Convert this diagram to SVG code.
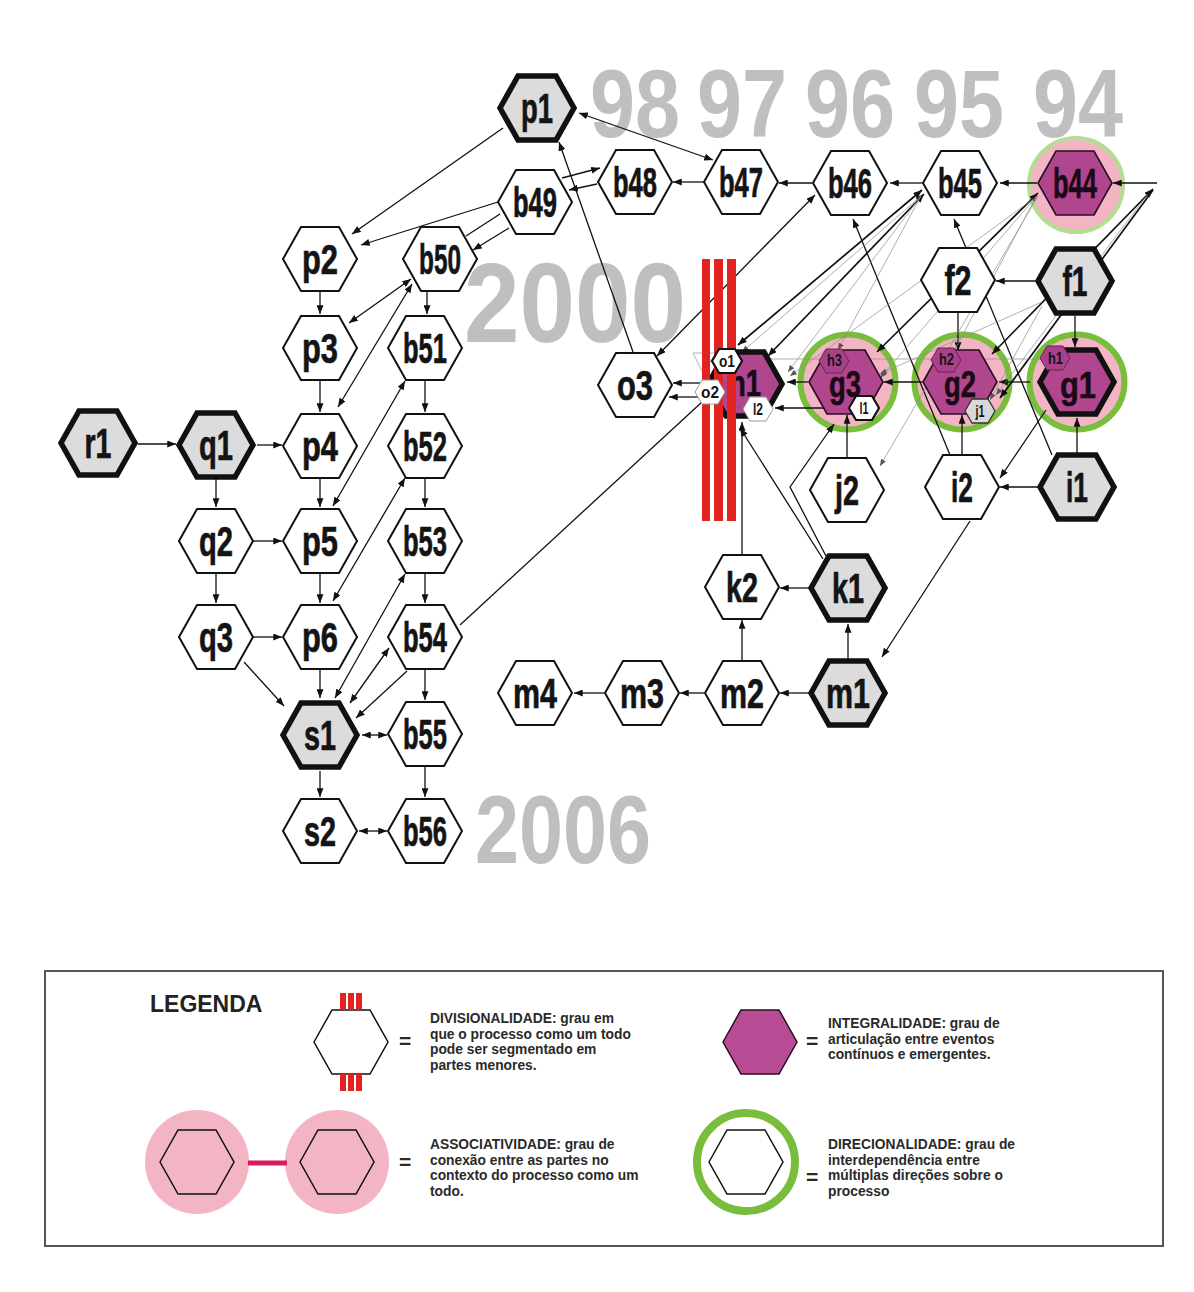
<svg xmlns="http://www.w3.org/2000/svg" width="1194" height="1292" viewBox="0 0 1194 1292">
<defs>
<style>
 .yr{font-family:"Liberation Sans",Arial,sans-serif;font-weight:bold;fill:#bfbfbf}
 .lb{font-family:"Liberation Sans",Arial,sans-serif;font-weight:bold;font-size:43px;fill:#141414;stroke:#141414;stroke-width:0.7}
 .lg{font-family:"Liberation Sans",Arial,sans-serif;font-weight:bold;font-size:36px;fill:#1a0a16;stroke:#1a0a16;stroke-width:0.6}
 .sl{font-family:"Liberation Sans",Arial,sans-serif;font-weight:bold;font-size:16px;fill:#141414}
 .lt{font-family:"Liberation Sans",Arial,sans-serif;font-weight:bold;font-size:13.8px;fill:#2a2a2a}
 .lh{font-family:"Liberation Sans",Arial,sans-serif;font-weight:bold;font-size:23px;fill:#222}
 .eq{font-family:"Liberation Sans",Arial,sans-serif;font-weight:bold;font-size:21px;fill:#2a2a2a}
 .w{fill:#fff;stroke:#111;stroke-width:2}
 .bd{fill:#dcdcdc;stroke:#111;stroke-width:5.5}
 .pu{fill:#b0468e;stroke:#2a0c22;stroke-width:1.6}
 .pb{fill:#b0468e;stroke:#111;stroke-width:5.5}
 .hp{fill:#a8418a;stroke:#6a2456;stroke-width:1}
 .sw{fill:#fff;stroke:#111;stroke-width:2.2}
 .sg{fill:#fff;stroke:#9a9a9a;stroke-width:1}
 .sy{fill:#d8d8d8;stroke:#333;stroke-width:1.3}
 .halo{fill:#f3b5c4;stroke:#78be3c;stroke-width:6}
 .bar{fill:#e22320}
 #connectors path{fill:none;stroke:#111;stroke-width:1.3}
 #connectors path.t{stroke:#8c8c8c;stroke-width:0.7}
 #connectors path.k{stroke-width:1.7}
 .a{marker-end:url(#ah)}
 .d{marker-start:url(#ah);marker-end:url(#ah)}
 .ta{marker-end:url(#ahg)}
</style>
<polygon id="hx" points="-37,0 -19,-32 19,-32 37,0 19,32 -19,32"/>
<polygon id="hs" points="-15,0 -8,-12 8,-12 15,0 8,12 -8,12"/>
<marker id="ah" viewBox="0 0 10 8" refX="10" refY="4" markerWidth="9" markerHeight="7" markerUnits="userSpaceOnUse" orient="auto-start-reverse">
 <path d="M0,0 L10,4 L0,8 z" fill="#111"/>
</marker>
<marker id="ahg" viewBox="0 0 10 8" refX="10" refY="4" markerWidth="7" markerHeight="5.5" markerUnits="userSpaceOnUse" orient="auto-start-reverse">
 <path d="M0,0 L10,4 L0,8 z" fill="#555"/>
</marker>
</defs>

<rect width="1194" height="1292" fill="#fff"/>

<!-- year markers in the background -->
<g id="years">
 <text class="yr" x="590" y="137" font-size="96" textLength="90" lengthAdjust="spacingAndGlyphs">98</text>
 <text class="yr" x="697" y="137" font-size="96" textLength="90" lengthAdjust="spacingAndGlyphs">97</text>
 <text class="yr" x="805" y="137" font-size="96" textLength="90" lengthAdjust="spacingAndGlyphs">96</text>
 <text class="yr" x="914" y="137" font-size="96" textLength="90" lengthAdjust="spacingAndGlyphs">95</text>
 <text class="yr" x="1033" y="137" font-size="96" textLength="90" lengthAdjust="spacingAndGlyphs">94</text>
 <text class="yr" x="464" y="342" font-size="113" textLength="222" lengthAdjust="spacingAndGlyphs">2000</text>
 <text class="yr" x="475" y="863" font-size="96" textLength="176" lengthAdjust="spacingAndGlyphs">2006</text>
</g>

<!-- associativity / directionality halos -->
<g id="halos">
 <circle cx="1076" cy="185" r="47" fill="#f3b5c4" stroke="#b5dc93" stroke-width="4"/>
 <circle class="halo" cx="848" cy="382" r="47.5"/>
 <circle class="halo" cx="962" cy="382" r="47.5"/>
 <circle class="halo" cx="1077" cy="382" r="47.5"/>
</g>

<g id="connectors">
 <!-- left block -->
 <path class="a" d="M138,444 L176,444"/>
 <path class="a" d="M257,445 L282,445"/>
 <path class="a" d="M216,479 L216,507"/>
 <path class="a" d="M254,541 L282,541"/>
 <path class="a" d="M216,574 L216,603"/>
 <path class="a" d="M254,637 L282,637"/>
 <path class="a" d="M244,662 L284,706"/>
 <path class="a" d="M320,292 L320,314"/>
 <path class="a" d="M320,381 L320,412"/>
 <path class="a" d="M320,479 L320,507"/>
 <path class="a" d="M320,574 L320,603"/>
 <path class="a" d="M320,670 L320,698"/>
 <path class="a" d="M320,771 L320,797"/>
 <path class="a" d="M427,292 L427,314"/>
 <path class="a" d="M425,381 L425,412"/>
 <path class="a" d="M425,479 L425,507"/>
 <path class="a" d="M425,574 L425,603"/>
 <path class="a" d="M425,670 L425,700"/>
 <path class="a" d="M425,767 L425,797"/>
 <path class="d" d="M362,735 L387,735"/>
 <path class="d" d="M359,831 L387,831"/>
 <path class="a" d="M503,128 L352,234"/>
 <path class="a" d="M498,202 L361,245"/>
 <path d="M500,214 L466,236"/>
 <path class="a" d="M509,228 L473,250"/>
 <path class="a" d="M562,178 L600,168"/>
 <path class="a" d="M597,184 L569,190"/>
 <path class="a" d="M704,182 L673,182"/>
 <path class="a" d="M812,183 L779,183"/>
 <path class="a" d="M922,183 L890,183"/>
 <path class="a" d="M1037,183 L1000,183"/>
 <path class="a" d="M1157,183 L1113,183"/>
 <path class="d" d="M579,113 L713,160"/>
 <path class="a" d="M633,352 L559,142"/>
 <path class="d" d="M815,195 L657,356"/>
 <path class="d" d="M411,279 L349,323"/>
 <path class="d" d="M412,284 L338,407"/>
 <path class="d" d="M405,381 L333,506"/>
 <path class="d" d="M405,478 L333,601"/>
 <path class="d" d="M405,574 L335,698"/>
 <path class="d" d="M389,648 L350,703"/>
 <path class="a" d="M407,671 L356,718"/>
 <path d="M460,625 L702,402"/>
 <!-- right block -->
 <path class="a" d="M1035,281 L996,281"/>
 <path class="a" d="M1052,455 L954,219"/>
 <path class="a" d="M950,455 L853,219"/>
 <path class="a" d="M958,313 L958,351"/>
 <path class="a" d="M1075,316 L1075,347"/>
 <path class="a" d="M1030,382 L999,382"/>
 <path class="a" d="M922,382 L884,382"/>
 <path class="a" d="M808,382 L787,382"/>
 <path class="a" d="M848,408 L775,408"/>
 <path class="a" d="M700,383 L673,383"/>
 <path class="a" d="M700,397 L669,397"/>
 <path class="a" d="M1077,453 L1077,418"/>
 <path class="a" d="M962,454 L962,415"/>
 <path class="a" d="M847,457 L847,415"/>
 <path class="a" d="M1038,487 L1000,487"/>
 <path class="a" d="M810,588 L780,588"/>
 <path class="a" d="M848,659 L848,624"/>
 <path class="a" d="M742,660 L742,620"/>
 <path class="a" d="M810,693 L780,693"/>
 <path class="a" d="M704,693 L680,693"/>
 <path class="a" d="M604,693 L574,693"/>
 <path class="a" d="M970,521 L882,657"/>
 <path class="a" d="M742,554 L742,422"/>
 <path class="a" d="M823,559 L740,428"/>
 <path class="a" d="M826,556 L790,487 L834,424"/>
 <path class="a" d="M1046,410 L1000,478"/>
 <!-- fan towards b45 / b44 -->
 <path class="d k" d="M922,190 L738,345"/>
 <path class="d k" d="M924,194 L768,356"/>
 <path class="d k" d="M1038,193 L877,352"/>
 <path class="d k" d="M1153,189 L992,354"/>
 <path class="a k" d="M1153,190 L1000,398"/>
 <path class="t ta" d="M921,196 L838,350"/>
 <path class="t ta" d="M921,196 L788,372"/>
 <path class="t ta" d="M921,196 L742,352"/>
 <path class="t ta" d="M1038,196 L880,466"/>
 <path class="t ta" d="M1036,197 L952,355"/>
 <path class="t ta" d="M1036,197 L880,378"/>
 <path class="t ta" d="M1036,197 L790,376"/>
 <path class="t ta" d="M1148,194 L996,395"/>
 <path class="t ta" d="M1042,302 L880,374"/>
 <path class="t ta" d="M1042,306 L990,400"/>
 <path class="t ta" d="M1045,359 L746,359"/>
 <path class="t" d="M693,353 L716,353 L703,373 z"/>
</g>

<g id="nodes">
 <g id="node-p1"><use href="#hx" x="537" y="108" class="bd"/><text class="lb" x="521" y="123" textLength="32" lengthAdjust="spacingAndGlyphs">p1</text></g>
 <g id="node-b49"><use href="#hx" x="535" y="202" class="w"/><text class="lb" x="513" y="217" textLength="44" lengthAdjust="spacingAndGlyphs">b49</text></g>
 <g id="node-b48"><use href="#hx" x="635" y="182" class="w"/><text class="lb" x="613" y="197" textLength="44" lengthAdjust="spacingAndGlyphs">b48</text></g>
 <g id="node-b47"><use href="#hx" x="741" y="182" class="w"/><text class="lb" x="719" y="197" textLength="44" lengthAdjust="spacingAndGlyphs">b47</text></g>
 <g id="node-b46"><use href="#hx" x="850" y="183" class="w"/><text class="lb" x="828" y="198" textLength="44" lengthAdjust="spacingAndGlyphs">b46</text></g>
 <g id="node-b45"><use href="#hx" x="960" y="183" class="w"/><text class="lb" x="938" y="198" textLength="44" lengthAdjust="spacingAndGlyphs">b45</text></g>
 <g id="node-b44"><use href="#hx" x="1075" y="183" class="pu"/><text class="lb" x="1053" y="198" textLength="44" lengthAdjust="spacingAndGlyphs" style="fill:#1a0a16;stroke:#1a0a16">b44</text></g>
 <g id="node-p2"><use href="#hx" x="320" y="259" class="w"/><text class="lb" x="302" y="274" textLength="36" lengthAdjust="spacingAndGlyphs">p2</text></g>
 <g id="node-b50"><use href="#hx" x="440" y="259" class="w"/><text class="lb" x="419" y="274" textLength="42" lengthAdjust="spacingAndGlyphs">b50</text></g>
 <g id="node-p3"><use href="#hx" x="320" y="348" class="w"/><text class="lb" x="302" y="363" textLength="36" lengthAdjust="spacingAndGlyphs">p3</text></g>
 <g id="node-b51"><use href="#hx" x="425" y="348" class="w"/><text class="lb" x="403" y="363" textLength="44" lengthAdjust="spacingAndGlyphs">b51</text></g>
 <g id="node-r1"><use href="#hx" x="98" y="443" class="bd"/><text class="lb" x="84.5" y="458" textLength="27" lengthAdjust="spacingAndGlyphs">r1</text></g>
 <g id="node-q1"><use href="#hx" x="216" y="445" class="bd"/><text class="lb" x="199" y="460" textLength="34" lengthAdjust="spacingAndGlyphs">q1</text></g>
 <g id="node-p4"><use href="#hx" x="320" y="446" class="w"/><text class="lb" x="302" y="461" textLength="36" lengthAdjust="spacingAndGlyphs">p4</text></g>
 <g id="node-b52"><use href="#hx" x="425" y="446" class="w"/><text class="lb" x="403" y="461" textLength="44" lengthAdjust="spacingAndGlyphs">b52</text></g>
 <g id="node-q2"><use href="#hx" x="216" y="541" class="w"/><text class="lb" x="199" y="556" textLength="34" lengthAdjust="spacingAndGlyphs">q2</text></g>
 <g id="node-p5"><use href="#hx" x="320" y="541" class="w"/><text class="lb" x="302" y="556" textLength="36" lengthAdjust="spacingAndGlyphs">p5</text></g>
 <g id="node-b53"><use href="#hx" x="425" y="541" class="w"/><text class="lb" x="403" y="556" textLength="44" lengthAdjust="spacingAndGlyphs">b53</text></g>
 <g id="node-q3"><use href="#hx" x="216" y="637" class="w"/><text class="lb" x="199" y="652" textLength="34" lengthAdjust="spacingAndGlyphs">q3</text></g>
 <g id="node-p6"><use href="#hx" x="320" y="637" class="w"/><text class="lb" x="302" y="652" textLength="36" lengthAdjust="spacingAndGlyphs">p6</text></g>
 <g id="node-b54"><use href="#hx" x="425" y="637" class="w"/><text class="lb" x="403" y="652" textLength="44" lengthAdjust="spacingAndGlyphs">b54</text></g>
 <g id="node-s1"><use href="#hx" x="320" y="735" class="bd"/><text class="lb" x="304" y="750" textLength="32" lengthAdjust="spacingAndGlyphs">s1</text></g>
 <g id="node-b55"><use href="#hx" x="425" y="734" class="w"/><text class="lb" x="403" y="749" textLength="44" lengthAdjust="spacingAndGlyphs">b55</text></g>
 <g id="node-s2"><use href="#hx" x="320" y="831" class="w"/><text class="lb" x="304" y="846" textLength="32" lengthAdjust="spacingAndGlyphs">s2</text></g>
 <g id="node-b56"><use href="#hx" x="425" y="831" class="w"/><text class="lb" x="403" y="846" textLength="44" lengthAdjust="spacingAndGlyphs">b56</text></g>
 <g id="node-o3"><use href="#hx" x="635" y="385" class="w"/><text class="lb" x="617" y="400" textLength="36" lengthAdjust="spacingAndGlyphs">o3</text></g>
 <g id="node-n1"><use href="#hx" x="745" y="384" class="pb"/><text class="lg" x="729" y="396" textLength="32" lengthAdjust="spacingAndGlyphs">n1</text></g>
 <g id="node-g3"><use href="#hx" x="846" y="382" class="pu"/><text class="lg" x="829" y="397" textLength="32" lengthAdjust="spacingAndGlyphs">g3</text></g>
 <g id="node-g2"><use href="#hx" x="960" y="382" class="pu"/><text class="lg" x="944" y="397" textLength="32" lengthAdjust="spacingAndGlyphs">g2</text></g>
 <g id="node-g1"><use href="#hx" x="1077" y="382" class="pb"/><text class="lg" x="1060" y="398" textLength="36" lengthAdjust="spacingAndGlyphs">g1</text></g>
 <g id="node-f2"><use href="#hx" x="958" y="280" class="w"/><text class="lb" x="944.5" y="295" textLength="27" lengthAdjust="spacingAndGlyphs">f2</text></g>
 <g id="node-f1"><use href="#hx" x="1075" y="281" class="bd"/><text class="lb" x="1062.5" y="296" textLength="25" lengthAdjust="spacingAndGlyphs">f1</text></g>
 <g id="node-j2"><use href="#hx" x="847" y="490" class="w"/><text class="lb" x="835" y="505" textLength="24" lengthAdjust="spacingAndGlyphs">j2</text></g>
 <g id="node-i2"><use href="#hx" x="962" y="487" class="w"/><text class="lb" x="951" y="502" textLength="22" lengthAdjust="spacingAndGlyphs">i2</text></g>
 <g id="node-i1"><use href="#hx" x="1077" y="487" class="bd"/><text class="lb" x="1066" y="502" textLength="22" lengthAdjust="spacingAndGlyphs">i1</text></g>
 <g id="node-k2"><use href="#hx" x="742" y="587" class="w"/><text class="lb" x="726" y="602" textLength="32" lengthAdjust="spacingAndGlyphs">k2</text></g>
 <g id="node-k1"><use href="#hx" x="848" y="588" class="bd"/><text class="lb" x="832" y="603" textLength="32" lengthAdjust="spacingAndGlyphs">k1</text></g>
 <g id="node-m4"><use href="#hx" x="535" y="693" class="w"/><text class="lb" x="513" y="708" textLength="44" lengthAdjust="spacingAndGlyphs">m4</text></g>
 <g id="node-m3"><use href="#hx" x="642" y="693" class="w"/><text class="lb" x="620" y="708" textLength="44" lengthAdjust="spacingAndGlyphs">m3</text></g>
 <g id="node-m2"><use href="#hx" x="742" y="693" class="w"/><text class="lb" x="720" y="708" textLength="44" lengthAdjust="spacingAndGlyphs">m2</text></g>
 <g id="node-m1"><use href="#hx" x="848" y="693" class="bd"/><text class="lb" x="826" y="708" textLength="44" lengthAdjust="spacingAndGlyphs">m1</text></g>
</g>

<!-- divisionality marks crossing n1 -->
<g id="split-bars">
 <rect class="bar" x="702" y="259" width="8" height="262"/>
 <rect class="bar" x="714" y="259" width="9" height="262"/>
 <rect class="bar" x="727" y="259" width="9" height="262"/>
</g>

<g id="sub-nodes">
 <g id="node-h3"><use href="#hs" x="834" y="361" class="hp"/><text class="sl" x="827" y="366" textLength="15" lengthAdjust="spacingAndGlyphs" fill="#2a0c22">h3</text></g>
 <g id="node-h2"><use href="#hs" x="946" y="360" class="hp"/><text class="sl" x="939" y="365" textLength="15" lengthAdjust="spacingAndGlyphs" fill="#2a0c22">h2</text></g>
 <g id="node-h1"><use href="#hs" x="1055" y="358" class="hp"/><text class="sl" x="1048" y="363.5" textLength="15" lengthAdjust="spacingAndGlyphs" fill="#2a0c22">h1</text></g>
 <g id="node-l1"><use href="#hs" x="864" y="408" class="sw"/><text class="sl" x="859.5" y="414" textLength="9" lengthAdjust="spacingAndGlyphs">l1</text></g>
 <g id="node-j1"><use href="#hs" x="980" y="411" class="sy"/><text class="sl" x="975.5" y="417" textLength="9" lengthAdjust="spacingAndGlyphs">j1</text></g>
 <g id="node-o1"><use href="#hs" x="727" y="361" class="sw"/><text class="sl" x="719" y="367" textLength="16" lengthAdjust="spacingAndGlyphs">o1</text></g>
 <g id="node-o2"><use href="#hs" x="710" y="392" class="sg"/><text class="sl" x="701" y="398" textLength="18" lengthAdjust="spacingAndGlyphs">o2</text></g>
 <g id="node-l2"><use href="#hs" x="758" y="409" class="sg"/><text class="sl" x="753" y="415" textLength="10" lengthAdjust="spacingAndGlyphs">l2</text></g>
</g>

<g id="legend">
 <rect x="45" y="971" width="1118" height="275" fill="#fff" stroke="#555" stroke-width="2"/>
 <text class="lh" x="150" y="1012">LEGENDA</text>

 <use href="#hx" x="351" y="1042" fill="#fff" stroke="#111" stroke-width="1.5"/>
 <rect class="bar" x="340" y="993" width="6" height="17"/>
 <rect class="bar" x="348" y="993" width="6" height="17"/>
 <rect class="bar" x="356" y="993" width="6" height="17"/>
 <rect class="bar" x="340" y="1074" width="6" height="17"/>
 <rect class="bar" x="348" y="1074" width="6" height="17"/>
 <rect class="bar" x="356" y="1074" width="6" height="17"/>
 <text class="eq" x="399" y="1048">=</text>
 <text class="lt" x="430" y="1023">DIVISIONALIDADE: grau em</text>
 <text class="lt" x="430" y="1038.5">que o processo como um todo</text>
 <text class="lt" x="430" y="1054">pode ser segmentado em</text>
 <text class="lt" x="430" y="1069.5">partes menores.</text>

 <use href="#hx" x="760" y="1042" fill="#b84c94" stroke="#2a0c22" stroke-width="1.5"/>
 <text class="eq" x="806" y="1048">=</text>
 <text class="lt" x="828" y="1028">INTEGRALIDADE: grau de</text>
 <text class="lt" x="828" y="1043.5">articulação entre eventos</text>
 <text class="lt" x="828" y="1059">contínuos e emergentes.</text>

 <circle cx="197" cy="1162" r="52" fill="#f3b5c4"/>
 <circle cx="337" cy="1162" r="52" fill="#f3b5c4"/>
 <line x1="248" y1="1163" x2="287" y2="1163" stroke="#d81b5a" stroke-width="5"/>
 <use href="#hx" x="197" y="1162" fill="none" stroke="#111" stroke-width="1.5"/>
 <use href="#hx" x="337" y="1162" fill="none" stroke="#111" stroke-width="1.5"/>
 <text class="eq" x="399" y="1169">=</text>
 <text class="lt" x="430" y="1149">ASSOCIATIVIDADE: grau de</text>
 <text class="lt" x="430" y="1164.5">conexão entre as partes no</text>
 <text class="lt" x="430" y="1180">contexto do processo como um</text>
 <text class="lt" x="430" y="1195.5">todo.</text>

 <circle cx="746" cy="1162" r="49" fill="#fff" stroke="#78be3c" stroke-width="8"/>
 <use href="#hx" x="746" y="1162" fill="none" stroke="#111" stroke-width="1.5"/>
 <text class="eq" x="806" y="1184">=</text>
 <text class="lt" x="828" y="1149">DIRECIONALIDADE: grau de</text>
 <text class="lt" x="828" y="1164.5">interdependência entre</text>
 <text class="lt" x="828" y="1180">múltiplas direções sobre o</text>
 <text class="lt" x="828" y="1195.5">processo</text>
</g>
</svg>
